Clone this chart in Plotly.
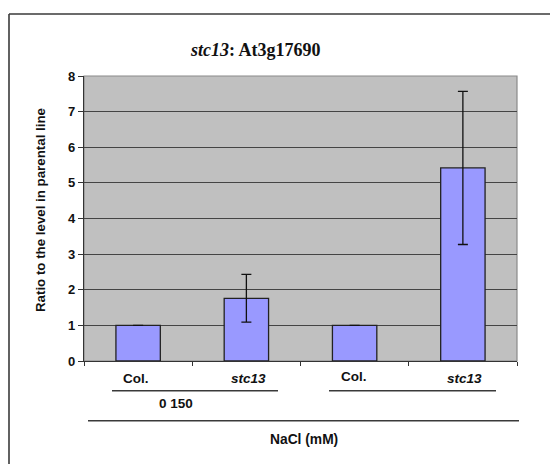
import plotly.graph_objects as go

categories = ["Col.", "stc13", "Col.", "stc13"]
cat_labels = ["Col.", "<i>stc13</i>", "Col.", "<i>stc13</i>"]
values = [1.0, 1.76, 1.0, 5.42]
errors = [0.0, 0.67, 0.0, 2.15]
y_ticks = [0, 1, 2, 3, 4, 5, 6, 7, 8]

xpos = [0.5, 1.5, 2.5, 3.5]

W, H = 550, 464
L, R, T, B = 84, 517, 76, 361
pw, ph = R - L, B - T

def py(y):
    return (B - y) / ph

def pxp(x):
    return (x - L) / pw

fig = go.Figure()
fig.add_trace(go.Bar(
    x=xpos, y=values, width=0.41,
    marker=dict(color="#9999FF", line=dict(color="#222222", width=1.3)),
    error_y=dict(type="data", array=errors, visible=True, color="#111111",
                 thickness=1.3, width=5),
    hoverinfo="skip",
))

font_b = "Liberation Sans, Arial, sans-serif"
ann = []
label_y = [378, 378, 376.5, 378]
label_x = [136, 248, 354, 464]
for lx, lab, ly in zip(label_x, cat_labels, label_y):
    ann.append(dict(x=pxp(lx), y=py(ly), xref="paper", yref="paper", text="<b>" + lab + "</b>",
                    showarrow=False, font=dict(family=font_b, size=13.5, color="#111111"),
                    xanchor="center", yanchor="middle"))
ann.append(dict(x=pxp(176), y=py(403), xref="paper", yref="paper", text="<b>0 150</b>",
                showarrow=False, xanchor="center", yanchor="middle",
                font=dict(family=font_b, size=13.5, color="#111111")))
ann.append(dict(x=pxp(304), y=py(439), xref="paper", yref="paper", text="<b>NaCl (mM)</b>",
                showarrow=False, xanchor="center", yanchor="middle",
                font=dict(family=font_b, size=13.8, color="#111111")))
ann.append(dict(x=pxp(40), y=py(210), xref="paper", yref="paper",
                text="<b>Ratio to the level in parental line</b>", textangle=-90,
                showarrow=False, xanchor="center", yanchor="middle",
                font=dict(family=font_b, size=13.3, color="#111111")))
ann.append(dict(x=pxp(255), y=py(50), xref="paper", yref="paper",
                text="<b><i>stc13</i>: At3g17690</b>", xanchor="center", yanchor="middle",
                showarrow=False, font=dict(family="Liberation Serif, Times New Roman, serif", size=18, color="#111111")))

line_col = "#3a3a3a"
def hline(x0, x1, y):
    return dict(type="line", xref="paper", yref="paper", x0=pxp(x0), x1=pxp(x1), y0=py(y), y1=py(y),
                line=dict(color=line_col, width=1.6))

shapes = [
    hline(112, 278, 390.7),
    hline(329, 496, 390.7),
    hline(88, 519, 420.7),
    hline(9, 600, 14),
    dict(type="line", xref="paper", yref="paper", x0=pxp(9), x1=pxp(9), y0=py(14), y1=py(520),
         line=dict(color=line_col, width=1.6)),
    dict(type="rect", xref="paper", yref="paper", x0=0, x1=1, y0=0, y1=1,
         line=dict(color="#8a8a8a", width=1.2), layer="below"),
]

fig.update_layout(
    width=W, height=H,
    margin=dict(l=L, r=W - R, t=T, b=H - B, pad=0),
    paper_bgcolor="white", plot_bgcolor="#C0C0C0",
    showlegend=False,
    annotations=ann, shapes=shapes,
    xaxis=dict(range=[0, 4], tickvals=[0, 1, 2, 3, 4], ticktext=["", "", "", "", ""],
               ticks="outside", ticklen=4, tickcolor="#333333", showgrid=False,
               showline=True, linecolor="#333333", linewidth=1.2, zeroline=False),
    yaxis=dict(range=[0, 8], tickvals=y_ticks, ticks="outside", ticklen=5, tickcolor="#333333",
               showgrid=True, gridcolor="#444444", gridwidth=1.3,
               showline=True, linecolor="#333333", linewidth=1.2, zeroline=False,
               tickfont=dict(family=font_b, size=13, color="#111111", weight="bold")),
)

fig.write_html("out.html", config={"displayModeBar": False},
               post_script="document.body.style.margin='0';")
